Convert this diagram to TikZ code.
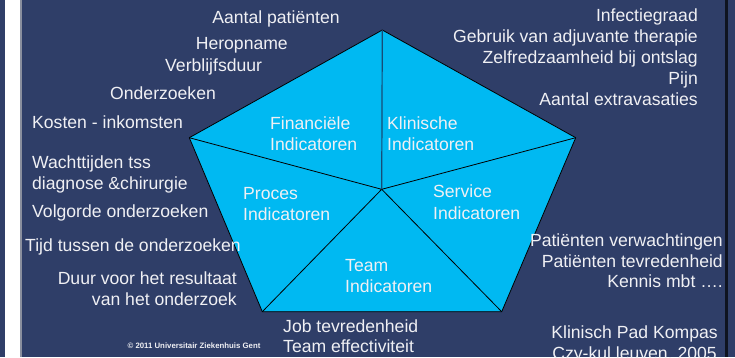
\documentclass[tikz,border=0pt]{standalone}
\usepackage{fontspec}
\setmainfont{Liberation Sans}
\definecolor{bgblue}{HTML}{2F3E68}
\definecolor{penta}{HTML}{00B9F2}
\definecolor{txt}{HTML}{F0F0F4}
\definecolor{frameline}{HTML}{8A8F9E}
\definecolor{spoke}{HTML}{164C78}
\tikzset{
  lbl/.style={inner sep=0pt, text=txt, font=\fontsize{17.6}{20}\selectfont, yshift=-2.5pt},
  lw/.style={lbl, anchor=mid west},
  le/.style={lbl, anchor=mid east},
  lc/.style={lbl, anchor=mid},
  edge/.style={draw=black, line width=0.8pt, line join=round},
}
\begin{document}
\begin{tikzpicture}[x=1pt,y=-1pt]
\useasboundingbox (0,0) rectangle (735,357);
\clip (0,0) rectangle (735,357);
% background and frame
\fill[bgblue] (0,0) rectangle (735,357);
\fill[white] (5,0) rectangle (20,357);
\draw[frameline, line width=1.2pt] (21,0) -- (21,357);
\fill[black!70!bgblue] (725,0) rectangle (728,357);
% pentagon
\coordinate (T) at (382.3,30);
\coordinate (L) at (189.3,137.7);
\coordinate (R) at (575.7,137.7);
\coordinate (BL) at (262.3,311.7);
\coordinate (BR) at (501.7,311.7);
\coordinate (C) at (381.7,189.3);
\fill[penta] (T) -- (R) -- (BR) -- (BL) -- (L) -- cycle;
\draw[edge] (T) -- (R) -- (BR) -- (BL) -- (L) -- cycle;
\draw[edge] (L) -- (C) (R) -- (C) (BL) -- (C) (BR) -- (C);
\draw[spoke, line width=1.2pt] (T) -- (C);
% inner labels
\node[lw] (fin1) at (270,124) {Financiële};
\node[lw] (fin2) at (270,145) {Indicatoren};
\node[lw] (kli1) at (387,124) {Klinische};
\node[lw] (kli2) at (387,145) {Indicatoren};
\node[lw] (pro1) at (243,194) {Proces};
\node[lw] (pro2) at (243,215) {Indicatoren};
\node[lw] (ser1) at (433,192) {Service};
\node[lw] (ser2) at (433,214) {Indicatoren};
\node[lw] (tea1) at (345,266) {Team};
\node[lw] (tea2) at (345,287) {Indicatoren};
% top-left labels
\node[lc] (a1) at (276,18) {Aantal patiënten};
\node[le] (a2) at (288,44) {Heropname};
\node[lw] (a3) at (165,66) {Verblijfsduur};
\node[lw] (a4) at (110,94) {Onderzoeken};
\node[lw] (a5) at (32,123) {Kosten - inkomsten};
% left labels
\node[lw] (b1) at (32,163) {Wachttijden tss};
\node[lw] (b2) at (32,184) {diagnose \&chirurgie};
\node[lw] (b3) at (32,212) {Volgorde onderzoeken};
\node[lw] (b4) at (25,246) {Tijd tussen de onderzoeken};
\node[le] (b5) at (237,279) {Duur voor het resultaat};
\node[le] (b6) at (237,300) {van het onderzoek};
\node[inner sep=0pt, text=txt, anchor=mid, font=\fontsize{7.8}{9}\selectfont\bfseries, yshift=-1pt] (copy) at (194,345) {© 2011 Universitair Ziekenhuis Gent};
% top-right labels
\node[le] (c1) at (698,16) {Infectiegraad};
\node[le] (c2) at (698,37) {Gebruik van adjuvante therapie};
\node[le] (c3) at (698,58) {Zelfredzaamheid bij ontslag};
\node[le] (c4) at (698,79) {Pijn};
\node[le] (c5) at (698,100) {Aantal extravasaties};
% right labels
\node[le] (d1) at (723,241) {Patiënten verwachtingen};
\node[le] (d2) at (723,262) {Patiënten tevredenheid};
\node[le] (d3) at (723,282) {Kennis mbt ….};
\node[lc] (e1) at (634.5,333) {Klinisch Pad Kompas};
\node[lc] (e2) at (634.5,354) {Czy-kul leuven, 2005};
% bottom labels
\node[lw] (f1) at (283,327) {Job tevredenheid};
\node[lw] (f2) at (283,347) {Team effectiviteit};
\end{tikzpicture}
\end{document}
